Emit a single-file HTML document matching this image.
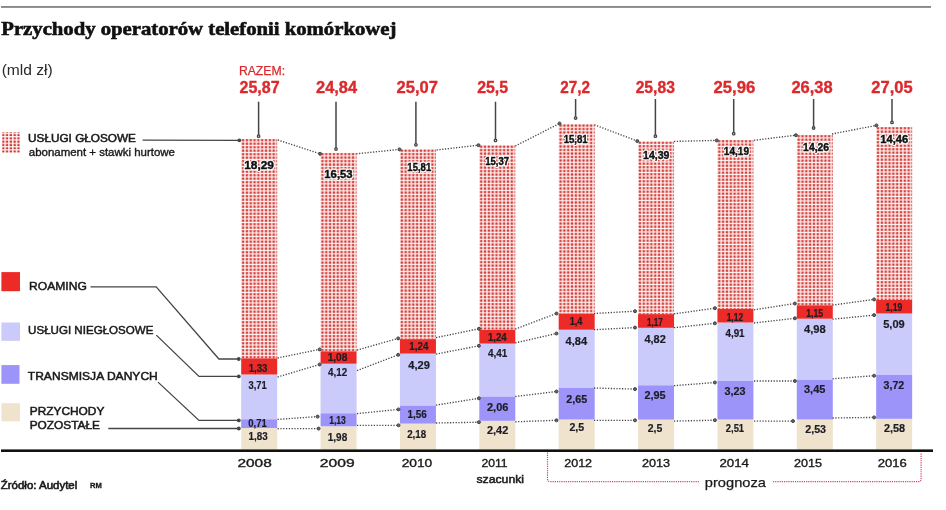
<!DOCTYPE html><html><head><meta charset="utf-8"><title>Przychody operatorów telefonii komórkowej</title>
<style>html,body{margin:0;padding:0;background:#fff;width:946px;height:510px;overflow:hidden}svg{display:block}text{font-family:"Liberation Sans",Arial,sans-serif}.sf{font-family:"Liberation Serif",serif}</style></head><body>
<svg width="946" height="510" viewBox="0 0 946 510">
<defs>
<pattern id="p0" patternUnits="userSpaceOnUse" x="241.20" y="138.90" width="3.82" height="3.5"><rect width="3.82" height="3.5" fill="#fff4f3"/><rect x="0.67" y="0.20" width="2.45" height="2.2" fill="#d03834"/></pattern>
<pattern id="p1" patternUnits="userSpaceOnUse" x="320.57" y="152.80" width="3.82" height="3.5"><rect width="3.82" height="3.5" fill="#fff4f3"/><rect x="0.67" y="0.20" width="2.45" height="2.2" fill="#d03834"/></pattern>
<pattern id="p2" patternUnits="userSpaceOnUse" x="399.94" y="149.30" width="3.82" height="3.5"><rect width="3.82" height="3.5" fill="#fff4f3"/><rect x="0.67" y="0.20" width="2.45" height="2.2" fill="#d03834"/></pattern>
<pattern id="p3" patternUnits="userSpaceOnUse" x="479.31" y="145.30" width="3.82" height="3.5"><rect width="3.82" height="3.5" fill="#fff4f3"/><rect x="0.67" y="0.20" width="2.45" height="2.2" fill="#d03834"/></pattern>
<pattern id="p4" patternUnits="userSpaceOnUse" x="558.68" y="124.20" width="3.82" height="3.5"><rect width="3.82" height="3.5" fill="#fff4f3"/><rect x="0.67" y="0.20" width="2.45" height="2.2" fill="#d03834"/></pattern>
<pattern id="p5" patternUnits="userSpaceOnUse" x="638.05" y="141.40" width="3.82" height="3.5"><rect width="3.82" height="3.5" fill="#fff4f3"/><rect x="0.67" y="0.20" width="2.45" height="2.2" fill="#d03834"/></pattern>
<pattern id="p6" patternUnits="userSpaceOnUse" x="717.42" y="139.90" width="3.82" height="3.5"><rect width="3.82" height="3.5" fill="#fff4f3"/><rect x="0.67" y="0.20" width="2.45" height="2.2" fill="#d03834"/></pattern>
<pattern id="p7" patternUnits="userSpaceOnUse" x="796.79" y="134.90" width="3.82" height="3.5"><rect width="3.82" height="3.5" fill="#fff4f3"/><rect x="0.67" y="0.20" width="2.45" height="2.2" fill="#d03834"/></pattern>
<pattern id="p8" patternUnits="userSpaceOnUse" x="876.16" y="126.90" width="3.82" height="3.5"><rect width="3.82" height="3.5" fill="#fff4f3"/><rect x="0.67" y="0.20" width="2.45" height="2.2" fill="#d03834"/></pattern>
<pattern id="pl" patternUnits="userSpaceOnUse" x="1.5" y="133.6" width="3.8" height="3.3"><rect width="3.6" height="3.4" fill="#fff4f3"/><rect x="0.6" y="0.4" width="2.3" height="2.1" fill="#d03834"/></pattern>
</defs>
<rect x="1" y="6.1" width="930" height="1.7" fill="#7a7a7a"/>
<rect x="241.20" y="428.00" width="36.0" height="21.50" fill="#f0e3ce"/>
<rect x="241.20" y="419.20" width="36.0" height="8.80" fill="#9c94f9"/>
<rect x="241.20" y="374.50" width="36.0" height="44.70" fill="#cacafb"/>
<rect x="241.20" y="358.20" width="36.0" height="16.30" fill="#ec2a28"/>
<rect x="241.20" y="138.90" width="36.0" height="219.30" fill="url(#p0)"/>
<rect x="320.57" y="426.30" width="36.0" height="23.20" fill="#f0e3ce"/>
<rect x="320.57" y="413.20" width="36.0" height="13.10" fill="#9c94f9"/>
<rect x="320.57" y="363.70" width="36.0" height="49.50" fill="#cacafb"/>
<rect x="320.57" y="351.20" width="36.0" height="12.50" fill="#ec2a28"/>
<rect x="320.57" y="152.80" width="36.0" height="198.40" fill="url(#p1)"/>
<rect x="399.94" y="423.60" width="36.0" height="25.90" fill="#f0e3ce"/>
<rect x="399.94" y="405.40" width="36.0" height="18.20" fill="#9c94f9"/>
<rect x="399.94" y="353.60" width="36.0" height="51.80" fill="#cacafb"/>
<rect x="399.94" y="339.10" width="36.0" height="14.50" fill="#ec2a28"/>
<rect x="399.94" y="149.30" width="36.0" height="189.80" fill="url(#p2)"/>
<rect x="479.31" y="420.80" width="36.0" height="28.70" fill="#f0e3ce"/>
<rect x="479.31" y="396.40" width="36.0" height="24.40" fill="#9c94f9"/>
<rect x="479.31" y="343.60" width="36.0" height="52.80" fill="#cacafb"/>
<rect x="479.31" y="329.60" width="36.0" height="14.00" fill="#ec2a28"/>
<rect x="479.31" y="145.30" width="36.0" height="184.30" fill="url(#p3)"/>
<rect x="558.68" y="419.50" width="36.0" height="30.00" fill="#f0e3ce"/>
<rect x="558.68" y="387.50" width="36.0" height="32.00" fill="#9c94f9"/>
<rect x="558.68" y="329.70" width="36.0" height="57.80" fill="#cacafb"/>
<rect x="558.68" y="313.40" width="36.0" height="16.30" fill="#ec2a28"/>
<rect x="558.68" y="124.20" width="36.0" height="189.20" fill="url(#p4)"/>
<rect x="638.05" y="419.60" width="36.0" height="29.90" fill="#f0e3ce"/>
<rect x="638.05" y="385.20" width="36.0" height="34.40" fill="#9c94f9"/>
<rect x="638.05" y="327.80" width="36.0" height="57.40" fill="#cacafb"/>
<rect x="638.05" y="314.10" width="36.0" height="13.70" fill="#ec2a28"/>
<rect x="638.05" y="141.40" width="36.0" height="172.70" fill="url(#p5)"/>
<rect x="717.42" y="419.50" width="36.0" height="30.00" fill="#f0e3ce"/>
<rect x="717.42" y="381.00" width="36.0" height="38.50" fill="#9c94f9"/>
<rect x="717.42" y="322.50" width="36.0" height="58.50" fill="#cacafb"/>
<rect x="717.42" y="309.00" width="36.0" height="13.50" fill="#ec2a28"/>
<rect x="717.42" y="139.90" width="36.0" height="169.10" fill="url(#p6)"/>
<rect x="796.79" y="419.50" width="36.0" height="30.00" fill="#f0e3ce"/>
<rect x="796.79" y="379.50" width="36.0" height="40.00" fill="#9c94f9"/>
<rect x="796.79" y="318.70" width="36.0" height="60.80" fill="#cacafb"/>
<rect x="796.79" y="305.20" width="36.0" height="13.50" fill="#ec2a28"/>
<rect x="796.79" y="134.90" width="36.0" height="170.30" fill="url(#p7)"/>
<rect x="876.16" y="418.80" width="36.0" height="30.70" fill="#f0e3ce"/>
<rect x="876.16" y="374.50" width="36.0" height="44.30" fill="#9c94f9"/>
<rect x="876.16" y="313.50" width="36.0" height="61.00" fill="#cacafb"/>
<rect x="876.16" y="300.00" width="36.0" height="13.50" fill="#ec2a28"/>
<rect x="876.16" y="126.90" width="36.0" height="173.10" fill="url(#p8)"/>
<rect x="1" y="449.4" width="932" height="2.6" fill="#111"/>
<line x1="277.8" y1="140" x2="320.1" y2="153.8" stroke="#474747" stroke-width="1.35" stroke-dasharray="1.25 1.55"/>
<circle cx="320.1" cy="153.8" r="1.5" fill="#666" stroke="#444" stroke-width="1"/>
<line x1="277.6" y1="358" x2="319.6" y2="349.4" stroke="#474747" stroke-width="1.35" stroke-dasharray="1.25 1.55"/>
<circle cx="319.6" cy="349.4" r="1.5" fill="#666" stroke="#444" stroke-width="1"/>
<line x1="277.6" y1="377" x2="319.6" y2="364.5" stroke="#474747" stroke-width="1.35" stroke-dasharray="1.25 1.55"/>
<circle cx="319.6" cy="364.5" r="1.5" fill="#666" stroke="#444" stroke-width="1"/>
<line x1="277.6" y1="419.4" x2="317.6" y2="416.6" stroke="#474747" stroke-width="1.35" stroke-dasharray="1.25 1.55"/>
<circle cx="317.6" cy="416.6" r="1.5" fill="#666" stroke="#444" stroke-width="1"/>
<line x1="277.6" y1="428.7" x2="318.6" y2="428.6" stroke="#474747" stroke-width="1.35" stroke-dasharray="1.25 1.55"/>
<circle cx="318.6" cy="428.6" r="1.5" fill="#666" stroke="#444" stroke-width="1"/>
<line x1="356.3" y1="153.8" x2="399.5" y2="149.4" stroke="#474747" stroke-width="1.35" stroke-dasharray="1.25 1.55"/>
<circle cx="399.5" cy="149.4" r="1.5" fill="#666" stroke="#444" stroke-width="1"/>
<line x1="357" y1="350.1" x2="398.2" y2="338.4" stroke="#474747" stroke-width="1.35" stroke-dasharray="1.25 1.55"/>
<circle cx="398.2" cy="338.4" r="1.5" fill="#666" stroke="#444" stroke-width="1"/>
<line x1="357" y1="370.6" x2="398.2" y2="354.8" stroke="#474747" stroke-width="1.35" stroke-dasharray="1.25 1.55"/>
<circle cx="398.2" cy="354.8" r="1.5" fill="#666" stroke="#444" stroke-width="1"/>
<line x1="357" y1="413.6" x2="398.5" y2="409.4" stroke="#474747" stroke-width="1.35" stroke-dasharray="1.25 1.55"/>
<circle cx="398.5" cy="409.4" r="1.5" fill="#666" stroke="#444" stroke-width="1"/>
<line x1="357" y1="425.4" x2="398.5" y2="425.3" stroke="#474747" stroke-width="1.35" stroke-dasharray="1.25 1.55"/>
<circle cx="398.5" cy="425.3" r="1.5" fill="#666" stroke="#444" stroke-width="1"/>
<line x1="436.6" y1="150" x2="478.5" y2="145.2" stroke="#474747" stroke-width="1.35" stroke-dasharray="1.25 1.55"/>
<circle cx="478.5" cy="145.2" r="1.5" fill="#666" stroke="#444" stroke-width="1"/>
<line x1="436" y1="337.6" x2="478.9" y2="328.8" stroke="#474747" stroke-width="1.35" stroke-dasharray="1.25 1.55"/>
<circle cx="478.9" cy="328.8" r="1.5" fill="#666" stroke="#444" stroke-width="1"/>
<line x1="436" y1="354.1" x2="478.9" y2="345.8" stroke="#474747" stroke-width="1.35" stroke-dasharray="1.25 1.55"/>
<circle cx="478.9" cy="345.8" r="1.5" fill="#666" stroke="#444" stroke-width="1"/>
<line x1="436" y1="405.1" x2="478.9" y2="398.3" stroke="#474747" stroke-width="1.35" stroke-dasharray="1.25 1.55"/>
<circle cx="478.9" cy="398.3" r="1.5" fill="#666" stroke="#444" stroke-width="1"/>
<line x1="436" y1="423" x2="478.9" y2="422.2" stroke="#474747" stroke-width="1.35" stroke-dasharray="1.25 1.55"/>
<circle cx="478.9" cy="422.2" r="1.5" fill="#666" stroke="#444" stroke-width="1"/>
<line x1="515.3" y1="146" x2="559.5" y2="123.5" stroke="#474747" stroke-width="1.35" stroke-dasharray="1.25 1.55"/>
<circle cx="559.5" cy="123.5" r="1.5" fill="#666" stroke="#444" stroke-width="1"/>
<line x1="515.3" y1="329.1" x2="556.5" y2="313.5" stroke="#474747" stroke-width="1.35" stroke-dasharray="1.25 1.55"/>
<circle cx="556.5" cy="313.5" r="1.5" fill="#666" stroke="#444" stroke-width="1"/>
<line x1="515.3" y1="342.9" x2="556.5" y2="333.5" stroke="#474747" stroke-width="1.35" stroke-dasharray="1.25 1.55"/>
<circle cx="556.5" cy="333.5" r="1.5" fill="#666" stroke="#444" stroke-width="1"/>
<line x1="515.3" y1="396.5" x2="556.5" y2="391.5" stroke="#474747" stroke-width="1.35" stroke-dasharray="1.25 1.55"/>
<circle cx="556.5" cy="391.5" r="1.5" fill="#666" stroke="#444" stroke-width="1"/>
<line x1="515.3" y1="421.8" x2="556.5" y2="420.3" stroke="#474747" stroke-width="1.35" stroke-dasharray="1.25 1.55"/>
<circle cx="556.5" cy="420.3" r="1.5" fill="#666" stroke="#444" stroke-width="1"/>
<line x1="594.4" y1="124.8" x2="637.3" y2="141.1" stroke="#474747" stroke-width="1.35" stroke-dasharray="1.25 1.55"/>
<circle cx="637.3" cy="141.1" r="1.5" fill="#666" stroke="#444" stroke-width="1"/>
<line x1="594" y1="313.5" x2="635" y2="311.2" stroke="#474747" stroke-width="1.35" stroke-dasharray="1.25 1.55"/>
<circle cx="635" cy="311.2" r="1.5" fill="#666" stroke="#444" stroke-width="1"/>
<line x1="594" y1="329.7" x2="635" y2="327.6" stroke="#474747" stroke-width="1.35" stroke-dasharray="1.25 1.55"/>
<circle cx="635" cy="327.6" r="1.5" fill="#666" stroke="#444" stroke-width="1"/>
<line x1="594" y1="388" x2="635" y2="389.1" stroke="#474747" stroke-width="1.35" stroke-dasharray="1.25 1.55"/>
<circle cx="635" cy="389.1" r="1.5" fill="#666" stroke="#444" stroke-width="1"/>
<line x1="594" y1="420.3" x2="635" y2="420.3" stroke="#474747" stroke-width="1.35" stroke-dasharray="1.25 1.55"/>
<circle cx="635" cy="420.3" r="1.5" fill="#666" stroke="#444" stroke-width="1"/>
<line x1="674" y1="141.4" x2="716.8" y2="140.4" stroke="#474747" stroke-width="1.35" stroke-dasharray="1.25 1.55"/>
<circle cx="716.8" cy="140.4" r="1.5" fill="#666" stroke="#444" stroke-width="1"/>
<line x1="674" y1="313.9" x2="714.9" y2="308.2" stroke="#474747" stroke-width="1.35" stroke-dasharray="1.25 1.55"/>
<circle cx="714.9" cy="308.2" r="1.5" fill="#666" stroke="#444" stroke-width="1"/>
<line x1="674" y1="327.7" x2="714.9" y2="323.3" stroke="#474747" stroke-width="1.35" stroke-dasharray="1.25 1.55"/>
<circle cx="714.9" cy="323.3" r="1.5" fill="#666" stroke="#444" stroke-width="1"/>
<line x1="674" y1="385.7" x2="714.9" y2="382.5" stroke="#474747" stroke-width="1.35" stroke-dasharray="1.25 1.55"/>
<circle cx="714.9" cy="382.5" r="1.5" fill="#666" stroke="#444" stroke-width="1"/>
<line x1="674" y1="421.1" x2="714.9" y2="420.2" stroke="#474747" stroke-width="1.35" stroke-dasharray="1.25 1.55"/>
<circle cx="714.9" cy="420.2" r="1.5" fill="#666" stroke="#444" stroke-width="1"/>
<line x1="754" y1="140.3" x2="795.9" y2="135.2" stroke="#474747" stroke-width="1.35" stroke-dasharray="1.25 1.55"/>
<circle cx="795.9" cy="135.2" r="1.5" fill="#666" stroke="#444" stroke-width="1"/>
<line x1="754" y1="309.8" x2="794.9" y2="303.5" stroke="#474747" stroke-width="1.35" stroke-dasharray="1.25 1.55"/>
<circle cx="794.9" cy="303.5" r="1.5" fill="#666" stroke="#444" stroke-width="1"/>
<line x1="754" y1="323" x2="794.9" y2="318.3" stroke="#474747" stroke-width="1.35" stroke-dasharray="1.25 1.55"/>
<circle cx="794.9" cy="318.3" r="1.5" fill="#666" stroke="#444" stroke-width="1"/>
<line x1="754" y1="381" x2="794.9" y2="381" stroke="#474747" stroke-width="1.35" stroke-dasharray="1.25 1.55"/>
<circle cx="794.9" cy="381" r="1.5" fill="#666" stroke="#444" stroke-width="1"/>
<line x1="754" y1="421.1" x2="793" y2="421.1" stroke="#474747" stroke-width="1.35" stroke-dasharray="1.25 1.55"/>
<circle cx="793" cy="421.1" r="1.5" fill="#666" stroke="#444" stroke-width="1"/>
<line x1="832" y1="134" x2="876.4" y2="125.4" stroke="#474747" stroke-width="1.35" stroke-dasharray="1.25 1.55"/>
<circle cx="876.4" cy="125.4" r="1.5" fill="#666" stroke="#444" stroke-width="1"/>
<line x1="832.5" y1="305.1" x2="874.1" y2="299.4" stroke="#474747" stroke-width="1.35" stroke-dasharray="1.25 1.55"/>
<circle cx="874.1" cy="299.4" r="1.5" fill="#666" stroke="#444" stroke-width="1"/>
<line x1="832.5" y1="319.2" x2="874.1" y2="315.1" stroke="#474747" stroke-width="1.35" stroke-dasharray="1.25 1.55"/>
<circle cx="874.1" cy="315.1" r="1.5" fill="#666" stroke="#444" stroke-width="1"/>
<line x1="832.5" y1="378.8" x2="874.1" y2="375.7" stroke="#474747" stroke-width="1.35" stroke-dasharray="1.25 1.55"/>
<circle cx="874.1" cy="375.7" r="1.5" fill="#666" stroke="#444" stroke-width="1"/>
<line x1="832.5" y1="418" x2="874.1" y2="417.4" stroke="#474747" stroke-width="1.35" stroke-dasharray="1.25 1.55"/>
<circle cx="874.1" cy="417.4" r="1.5" fill="#666" stroke="#444" stroke-width="1"/>
<line x1="258.6" y1="101.7" x2="258.6" y2="136.2" stroke="#454545" stroke-width="1.5"/>
<circle cx="258.6" cy="136.2" r="1.25" fill="#ddd" stroke="#454545" stroke-width="1.3"/>
<line x1="336" y1="101.7" x2="336" y2="149.1" stroke="#454545" stroke-width="1.5"/>
<circle cx="336" cy="149.1" r="1.25" fill="#ddd" stroke="#454545" stroke-width="1.3"/>
<line x1="415.9" y1="101.7" x2="415.9" y2="144.8" stroke="#454545" stroke-width="1.5"/>
<circle cx="415.9" cy="144.8" r="1.25" fill="#ddd" stroke="#454545" stroke-width="1.3"/>
<line x1="495.5" y1="101.7" x2="495.5" y2="140.4" stroke="#454545" stroke-width="1.5"/>
<circle cx="495.5" cy="140.4" r="1.25" fill="#ddd" stroke="#454545" stroke-width="1.3"/>
<line x1="575.6" y1="99" x2="575.6" y2="118.1" stroke="#454545" stroke-width="1.5"/>
<circle cx="575.6" cy="118.1" r="1.25" fill="#ddd" stroke="#454545" stroke-width="1.3"/>
<line x1="655.4" y1="99" x2="655.4" y2="136.2" stroke="#454545" stroke-width="1.5"/>
<circle cx="655.4" cy="136.2" r="1.25" fill="#ddd" stroke="#454545" stroke-width="1.3"/>
<line x1="733.7" y1="99" x2="733.7" y2="133.7" stroke="#454545" stroke-width="1.5"/>
<circle cx="733.7" cy="133.7" r="1.25" fill="#ddd" stroke="#454545" stroke-width="1.3"/>
<line x1="813.6" y1="99" x2="813.6" y2="128" stroke="#454545" stroke-width="1.5"/>
<circle cx="813.6" cy="128" r="1.25" fill="#ddd" stroke="#454545" stroke-width="1.3"/>
<line x1="892" y1="99" x2="892" y2="122.4" stroke="#454545" stroke-width="1.5"/>
<circle cx="892" cy="122.4" r="1.25" fill="#ddd" stroke="#454545" stroke-width="1.3"/>
<rect x="2" y="132.3" width="18" height="20.4" fill="url(#pl)"/>
<rect x="1.4" y="272.1" width="18.6" height="19.1" fill="#ec2a28"/>
<rect x="1.4" y="322.5" width="18.6" height="18.3" fill="#cacafb"/>
<rect x="1.4" y="365.1" width="18.1" height="18.7" fill="#9c94f9"/>
<rect x="1.4" y="403.2" width="18.6" height="18.1" fill="#f0e3ce"/>
<polyline points="142.6,140.2 239.3,140.3" fill="none" stroke="#454545" stroke-width="1.3"/>
<circle cx="239.3" cy="140.3" r="1.9" fill="#454545"/>
<polyline points="90.5,286.9 156.2,286.9 218.9,359 238.8,359" fill="none" stroke="#454545" stroke-width="1.3"/>
<circle cx="238.8" cy="359" r="1.9" fill="#454545"/>
<polyline points="156.3,335.1 199,376.4 238.8,376.4" fill="none" stroke="#454545" stroke-width="1.3"/>
<circle cx="238.8" cy="376.4" r="1.9" fill="#454545"/>
<polyline points="158,382.1 199,420.4 238.8,420.4" fill="none" stroke="#454545" stroke-width="1.3"/>
<circle cx="238.8" cy="420.4" r="1.9" fill="#454545"/>
<polyline points="108.3,428.5 238.8,428.5" fill="none" stroke="#454545" stroke-width="1.3"/>
<circle cx="238.8" cy="428.5" r="1.9" fill="#454545"/>
<path d="M547.5,452.5 V478.7 Q547.5,481.7 550.5,481.7 H699 M773,481.7 H918.1 Q921.1,481.7 921.1,478.7 V452.5" fill="none" stroke="#e2405e" stroke-width="1.2" stroke-dasharray="1.2 1.0"/>
<text id="title" x="1.26" y="34.90" font-size="18" fill="#111" font-weight="bold" class="sf" textLength="395.06" lengthAdjust="spacingAndGlyphs" stroke="#111" stroke-width="0.6">Przychody operatorów telefonii komórkowej</text>
<text id="mld" x="1.66" y="74.80" font-size="14.2" fill="#2a2a2a" textLength="51.12" lengthAdjust="spacingAndGlyphs">(mld zł)</text>
<text id="razem" x="238.88" y="74.50" font-size="12.6" fill="#dc292c" textLength="46.19" lengthAdjust="spacingAndGlyphs" stroke="#dc292c" stroke-width="0.25">RAZEM:</text>
<text id="tot0" x="259.56" y="93.10" font-size="16" fill="#dc292c" font-weight="bold" text-anchor="middle" textLength="40.03" lengthAdjust="spacingAndGlyphs" stroke="#dc292c" stroke-width="0.35">25,87</text>
<text id="tot1" x="336.60" y="93.10" font-size="16" fill="#dc292c" font-weight="bold" text-anchor="middle" textLength="41.07" lengthAdjust="spacingAndGlyphs" stroke="#dc292c" stroke-width="0.35">24,84</text>
<text id="tot2" x="417.22" y="93.10" font-size="16" fill="#dc292c" font-weight="bold" text-anchor="middle" textLength="41.39" lengthAdjust="spacingAndGlyphs" stroke="#dc292c" stroke-width="0.35">25,07</text>
<text id="tot3" x="492.65" y="93.10" font-size="16" fill="#dc292c" font-weight="bold" text-anchor="middle" textLength="30.89" lengthAdjust="spacingAndGlyphs" stroke="#dc292c" stroke-width="0.35">25,5</text>
<text id="tot4" x="575.22" y="93.10" font-size="16" fill="#dc292c" font-weight="bold" text-anchor="middle" textLength="29.75" lengthAdjust="spacingAndGlyphs" stroke="#dc292c" stroke-width="0.35">27,2</text>
<text id="tot5" x="655.26" y="93.10" font-size="16" fill="#dc292c" font-weight="bold" text-anchor="middle" textLength="39.19" lengthAdjust="spacingAndGlyphs" stroke="#dc292c" stroke-width="0.35">25,83</text>
<text id="tot6" x="734.35" y="93.10" font-size="16" fill="#dc292c" font-weight="bold" text-anchor="middle" textLength="41.82" lengthAdjust="spacingAndGlyphs" stroke="#dc292c" stroke-width="0.35">25,96</text>
<text id="tot7" x="812.05" y="93.10" font-size="16" fill="#dc292c" font-weight="bold" text-anchor="middle" textLength="41.19" lengthAdjust="spacingAndGlyphs" stroke="#dc292c" stroke-width="0.35">26,38</text>
<text id="tot8" x="891.98" y="93.10" font-size="16" fill="#dc292c" font-weight="bold" text-anchor="middle" textLength="41.20" lengthAdjust="spacingAndGlyphs" stroke="#dc292c" stroke-width="0.35">27,05</text>
<text x="259.06" y="168.75" font-size="11.6" fill="#111" font-weight="bold" text-anchor="middle" textLength="29.66" lengthAdjust="spacingAndGlyphs" stroke="#fff" stroke-width="2.8" stroke-linejoin="round">18,29</text>
<text id="v0" x="259.06" y="168.75" font-size="11.6" fill="#111" font-weight="bold" text-anchor="middle" textLength="29.66" lengthAdjust="spacingAndGlyphs" stroke="#111" stroke-width="0.45">18,29</text>
<text x="338.48" y="177.80" font-size="11.6" fill="#111" font-weight="bold" text-anchor="middle" textLength="28.28" lengthAdjust="spacingAndGlyphs" stroke="#fff" stroke-width="2.8" stroke-linejoin="round">16,53</text>
<text id="v1" x="338.48" y="177.80" font-size="11.6" fill="#111" font-weight="bold" text-anchor="middle" textLength="28.28" lengthAdjust="spacingAndGlyphs" stroke="#111" stroke-width="0.45">16,53</text>
<text x="419.30" y="171.35" font-size="11.6" fill="#111" font-weight="bold" text-anchor="middle" textLength="23.89" lengthAdjust="spacingAndGlyphs" stroke="#fff" stroke-width="2.8" stroke-linejoin="round">15,81</text>
<text id="v2" x="419.30" y="171.35" font-size="11.6" fill="#111" font-weight="bold" text-anchor="middle" textLength="23.89" lengthAdjust="spacingAndGlyphs" stroke="#111" stroke-width="0.45">15,81</text>
<text x="497.19" y="165.05" font-size="11.6" fill="#111" font-weight="bold" text-anchor="middle" textLength="23.94" lengthAdjust="spacingAndGlyphs" stroke="#fff" stroke-width="2.8" stroke-linejoin="round">15,37</text>
<text id="v3" x="497.19" y="165.05" font-size="11.6" fill="#111" font-weight="bold" text-anchor="middle" textLength="23.94" lengthAdjust="spacingAndGlyphs" stroke="#111" stroke-width="0.45">15,37</text>
<text x="575.66" y="142.85" font-size="11.6" fill="#111" font-weight="bold" text-anchor="middle" textLength="24.02" lengthAdjust="spacingAndGlyphs" stroke="#fff" stroke-width="2.8" stroke-linejoin="round">15,81</text>
<text id="v4" x="575.66" y="142.85" font-size="11.6" fill="#111" font-weight="bold" text-anchor="middle" textLength="24.02" lengthAdjust="spacingAndGlyphs" stroke="#111" stroke-width="0.45">15,81</text>
<text x="656.23" y="159.10" font-size="11.6" fill="#111" font-weight="bold" text-anchor="middle" textLength="26.34" lengthAdjust="spacingAndGlyphs" stroke="#fff" stroke-width="2.8" stroke-linejoin="round">14,39</text>
<text id="v5" x="656.23" y="159.10" font-size="11.6" fill="#111" font-weight="bold" text-anchor="middle" textLength="26.34" lengthAdjust="spacingAndGlyphs" stroke="#111" stroke-width="0.45">14,39</text>
<text x="736.45" y="155.00" font-size="11.6" fill="#111" font-weight="bold" text-anchor="middle" textLength="25.26" lengthAdjust="spacingAndGlyphs" stroke="#fff" stroke-width="2.8" stroke-linejoin="round">14,19</text>
<text id="v6" x="736.45" y="155.00" font-size="11.6" fill="#111" font-weight="bold" text-anchor="middle" textLength="25.26" lengthAdjust="spacingAndGlyphs" stroke="#111" stroke-width="0.45">14,19</text>
<text x="816.13" y="150.80" font-size="11.6" fill="#111" font-weight="bold" text-anchor="middle" textLength="26.02" lengthAdjust="spacingAndGlyphs" stroke="#fff" stroke-width="2.8" stroke-linejoin="round">14,26</text>
<text id="v7" x="816.13" y="150.80" font-size="11.6" fill="#111" font-weight="bold" text-anchor="middle" textLength="26.02" lengthAdjust="spacingAndGlyphs" stroke="#111" stroke-width="0.45">14,26</text>
<text x="894.22" y="142.85" font-size="11.6" fill="#111" font-weight="bold" text-anchor="middle" textLength="27.94" lengthAdjust="spacingAndGlyphs" stroke="#fff" stroke-width="2.8" stroke-linejoin="round">14,46</text>
<text id="v8" x="894.22" y="142.85" font-size="11.6" fill="#111" font-weight="bold" text-anchor="middle" textLength="27.94" lengthAdjust="spacingAndGlyphs" stroke="#111" stroke-width="0.45">14,46</text>
<text id="r0" x="258.08" y="372.10" font-size="11" fill="#1c1c24" font-weight="bold" text-anchor="middle" textLength="18.84" lengthAdjust="spacingAndGlyphs" stroke="#1c1c24" stroke-width="0.2">1,33</text>
<text id="r1" x="337.49" y="361.30" font-size="11" fill="#1c1c24" font-weight="bold" text-anchor="middle" textLength="19.69" lengthAdjust="spacingAndGlyphs" stroke="#1c1c24" stroke-width="0.2">1,08</text>
<text id="r2" x="418.85" y="350.30" font-size="11" fill="#1c1c24" font-weight="bold" text-anchor="middle" textLength="19.09" lengthAdjust="spacingAndGlyphs" stroke="#1c1c24" stroke-width="0.2">1,24</text>
<text id="r3" x="497.34" y="340.90" font-size="11" fill="#1c1c24" font-weight="bold" text-anchor="middle" textLength="18.83" lengthAdjust="spacingAndGlyphs" stroke="#1c1c24" stroke-width="0.2">1,24</text>
<text id="r4" x="576.07" y="325.10" font-size="11" fill="#1c1c24" font-weight="bold" text-anchor="middle" textLength="12.83" lengthAdjust="spacingAndGlyphs" stroke="#1c1c24" stroke-width="0.2">1,4</text>
<text id="r5" x="654.91" y="326.20" font-size="11" fill="#1c1c24" font-weight="bold" text-anchor="middle" textLength="15.89" lengthAdjust="spacingAndGlyphs" stroke="#1c1c24" stroke-width="0.2">1,17</text>
<text id="r6" x="734.88" y="320.60" font-size="11" fill="#1c1c24" font-weight="bold" text-anchor="middle" textLength="16.49" lengthAdjust="spacingAndGlyphs" stroke="#1c1c24" stroke-width="0.2">1,12</text>
<text id="r7" x="814.59" y="316.70" font-size="11" fill="#1c1c24" font-weight="bold" text-anchor="middle" textLength="16.73" lengthAdjust="spacingAndGlyphs" stroke="#1c1c24" stroke-width="0.2">1,15</text>
<text id="r8" x="893.93" y="311.10" font-size="11" fill="#1c1c24" font-weight="bold" text-anchor="middle" textLength="16.85" lengthAdjust="spacingAndGlyphs" stroke="#1c1c24" stroke-width="0.2">1,19</text>
<text id="n0" x="257.55" y="388.90" font-size="11" fill="#1c1c24" font-weight="bold" text-anchor="middle" textLength="18.19" lengthAdjust="spacingAndGlyphs" stroke="#1c1c24" stroke-width="0.2">3,71</text>
<text id="n1" x="337.66" y="376.10" font-size="11" fill="#1c1c24" font-weight="bold" text-anchor="middle" textLength="19.12" lengthAdjust="spacingAndGlyphs" stroke="#1c1c24" stroke-width="0.2">4,12</text>
<text id="n2" x="419.17" y="368.90" font-size="11" fill="#1c1c24" font-weight="bold" text-anchor="middle" textLength="21.63" lengthAdjust="spacingAndGlyphs" stroke="#1c1c24" stroke-width="0.2">4,29</text>
<text id="n3" x="497.65" y="357.20" font-size="11" fill="#1c1c24" font-weight="bold" text-anchor="middle" textLength="19.38" lengthAdjust="spacingAndGlyphs" stroke="#1c1c24" stroke-width="0.2">4,41</text>
<text id="n4" x="576.43" y="344.90" font-size="11" fill="#1c1c24" font-weight="bold" text-anchor="middle" textLength="21.62" lengthAdjust="spacingAndGlyphs" stroke="#1c1c24" stroke-width="0.2">4,84</text>
<text id="n5" x="655.09" y="343.20" font-size="11" fill="#1c1c24" font-weight="bold" text-anchor="middle" textLength="21.41" lengthAdjust="spacingAndGlyphs" stroke="#1c1c24" stroke-width="0.2">4,82</text>
<text id="n6" x="735.01" y="337.20" font-size="11" fill="#1c1c24" font-weight="bold" text-anchor="middle" textLength="19.16" lengthAdjust="spacingAndGlyphs" stroke="#1c1c24" stroke-width="0.2">4,91</text>
<text id="n7" x="814.84" y="333.30" font-size="11" fill="#1c1c24" font-weight="bold" text-anchor="middle" textLength="21.77" lengthAdjust="spacingAndGlyphs" stroke="#1c1c24" stroke-width="0.2">4,98</text>
<text id="n8" x="893.94" y="328.00" font-size="11" fill="#1c1c24" font-weight="bold" text-anchor="middle" textLength="21.50" lengthAdjust="spacingAndGlyphs" stroke="#1c1c24" stroke-width="0.2">5,09</text>
<text id="d0" x="257.48" y="426.90" font-size="11" fill="#1c1c24" font-weight="bold" text-anchor="middle" textLength="18.46" lengthAdjust="spacingAndGlyphs" stroke="#1c1c24" stroke-width="0.2">0,71</text>
<text id="d1" x="337.53" y="424.10" font-size="11" fill="#1c1c24" font-weight="bold" text-anchor="middle" textLength="16.76" lengthAdjust="spacingAndGlyphs" stroke="#1c1c24" stroke-width="0.2">1,13</text>
<text id="d2" x="417.23" y="418.40" font-size="11" fill="#1c1c24" font-weight="bold" text-anchor="middle" textLength="19.27" lengthAdjust="spacingAndGlyphs" stroke="#1c1c24" stroke-width="0.2">1,56</text>
<text id="d3" x="497.69" y="410.60" font-size="11" fill="#1c1c24" font-weight="bold" text-anchor="middle" textLength="21.42" lengthAdjust="spacingAndGlyphs" stroke="#1c1c24" stroke-width="0.2">2,06</text>
<text id="d4" x="576.70" y="402.90" font-size="11" fill="#1c1c24" font-weight="bold" text-anchor="middle" textLength="20.93" lengthAdjust="spacingAndGlyphs" stroke="#1c1c24" stroke-width="0.2">2,65</text>
<text id="d5" x="655.01" y="398.90" font-size="11" fill="#1c1c24" font-weight="bold" text-anchor="middle" textLength="21.09" lengthAdjust="spacingAndGlyphs" stroke="#1c1c24" stroke-width="0.2">2,95</text>
<text id="d6" x="734.99" y="394.90" font-size="11" fill="#1c1c24" font-weight="bold" text-anchor="middle" textLength="20.94" lengthAdjust="spacingAndGlyphs" stroke="#1c1c24" stroke-width="0.2">3,23</text>
<text id="d7" x="814.69" y="393.30" font-size="11" fill="#1c1c24" font-weight="bold" text-anchor="middle" textLength="21.35" lengthAdjust="spacingAndGlyphs" stroke="#1c1c24" stroke-width="0.2">3,45</text>
<text id="d8" x="893.92" y="388.70" font-size="11" fill="#1c1c24" font-weight="bold" text-anchor="middle" textLength="20.60" lengthAdjust="spacingAndGlyphs" stroke="#1c1c24" stroke-width="0.2">3,72</text>
<text id="o0" x="258.06" y="440.30" font-size="11" fill="#1c1c24" font-weight="bold" text-anchor="middle" textLength="19.19" lengthAdjust="spacingAndGlyphs" stroke="#1c1c24" stroke-width="0.2">1,83</text>
<text id="o1" x="337.53" y="441.00" font-size="11" fill="#1c1c24" font-weight="bold" text-anchor="middle" textLength="19.44" lengthAdjust="spacingAndGlyphs" stroke="#1c1c24" stroke-width="0.2">1,98</text>
<text id="o2" x="416.69" y="437.60" font-size="11" fill="#1c1c24" font-weight="bold" text-anchor="middle" textLength="19.00" lengthAdjust="spacingAndGlyphs" stroke="#1c1c24" stroke-width="0.2">2,18</text>
<text id="o3" x="497.64" y="434.10" font-size="11" fill="#1c1c24" font-weight="bold" text-anchor="middle" textLength="21.34" lengthAdjust="spacingAndGlyphs" stroke="#1c1c24" stroke-width="0.2">2,42</text>
<text id="o4" x="576.76" y="430.60" font-size="11" fill="#1c1c24" font-weight="bold" text-anchor="middle" textLength="14.71" lengthAdjust="spacingAndGlyphs" stroke="#1c1c24" stroke-width="0.2">2,5</text>
<text id="o5" x="654.98" y="431.60" font-size="11" fill="#1c1c24" font-weight="bold" text-anchor="middle" textLength="14.53" lengthAdjust="spacingAndGlyphs" stroke="#1c1c24" stroke-width="0.2">2,5</text>
<text id="o6" x="734.96" y="431.60" font-size="11" fill="#1c1c24" font-weight="bold" text-anchor="middle" textLength="18.26" lengthAdjust="spacingAndGlyphs" stroke="#1c1c24" stroke-width="0.2">2,51</text>
<text id="o7" x="815.66" y="433.40" font-size="11" fill="#1c1c24" font-weight="bold" text-anchor="middle" textLength="20.77" lengthAdjust="spacingAndGlyphs" stroke="#1c1c24" stroke-width="0.2">2,53</text>
<text id="o8" x="894.56" y="431.90" font-size="11" fill="#1c1c24" font-weight="bold" text-anchor="middle" textLength="21.21" lengthAdjust="spacingAndGlyphs" stroke="#1c1c24" stroke-width="0.2">2,58</text>
<text id="lg1" x="28.05" y="141.90" font-size="10.6" fill="#1a1a1a" textLength="107.94" lengthAdjust="spacingAndGlyphs" stroke="#1a1a1a" stroke-width="0.5">USŁUGI GŁOSOWE</text>
<text id="lg1b" x="28.79" y="155.90" font-size="10.3" fill="#1a1a1a" textLength="146.20" lengthAdjust="spacingAndGlyphs" stroke="#1a1a1a" stroke-width="0.35">abonament + stawki hurtowe</text>
<text id="lg2" x="29.08" y="290.40" font-size="11.6" fill="#1a1a1a" textLength="57.74" lengthAdjust="spacingAndGlyphs" stroke="#1a1a1a" stroke-width="0.5">ROAMING</text>
<text id="lg3" x="28.12" y="334.40" font-size="11.4" fill="#1a1a1a" textLength="125.28" lengthAdjust="spacingAndGlyphs" stroke="#1a1a1a" stroke-width="0.5">USŁUGI NIEGŁOSOWE</text>
<text id="lg4" x="27.81" y="379.50" font-size="11.3" fill="#1a1a1a" textLength="130.02" lengthAdjust="spacingAndGlyphs" stroke="#1a1a1a" stroke-width="0.5">TRANSMISJA DANYCH</text>
<text id="lg5" x="29.72" y="415.00" font-size="11.2" fill="#1a1a1a" textLength="74.69" lengthAdjust="spacingAndGlyphs" stroke="#1a1a1a" stroke-width="0.5">PRZYCHODY</text>
<text id="lg6" x="29.70" y="429.10" font-size="11.2" fill="#1a1a1a" textLength="70.31" lengthAdjust="spacingAndGlyphs" stroke="#1a1a1a" stroke-width="0.5">POZOSTAŁE</text>
<text id="y0" x="254.61" y="466.60" font-size="11.2" fill="#1a1a1a" text-anchor="middle" textLength="34.34" lengthAdjust="spacingAndGlyphs" stroke="#1a1a1a" stroke-width="0.35">2008</text>
<text id="y1" x="337.20" y="466.60" font-size="11.2" fill="#1a1a1a" text-anchor="middle" textLength="34.77" lengthAdjust="spacingAndGlyphs" stroke="#1a1a1a" stroke-width="0.35">2009</text>
<text id="y2" x="416.98" y="466.60" font-size="11.2" fill="#1a1a1a" text-anchor="middle" textLength="30.63" lengthAdjust="spacingAndGlyphs" stroke="#1a1a1a" stroke-width="0.35">2010</text>
<text id="y3" x="494.50" y="466.60" font-size="11.2" fill="#1a1a1a" text-anchor="middle" textLength="26.17" lengthAdjust="spacingAndGlyphs" stroke="#1a1a1a" stroke-width="0.35">2011</text>
<text id="y4" x="578.14" y="466.60" font-size="11.2" fill="#1a1a1a" text-anchor="middle" textLength="27.89" lengthAdjust="spacingAndGlyphs" stroke="#1a1a1a" stroke-width="0.35">2012</text>
<text id="y5" x="656.04" y="466.60" font-size="11.2" fill="#1a1a1a" text-anchor="middle" textLength="28.11" lengthAdjust="spacingAndGlyphs" stroke="#1a1a1a" stroke-width="0.35">2013</text>
<text id="y6" x="734.23" y="466.60" font-size="11.2" fill="#1a1a1a" text-anchor="middle" textLength="29.56" lengthAdjust="spacingAndGlyphs" stroke="#1a1a1a" stroke-width="0.35">2014</text>
<text id="y7" x="808.05" y="466.60" font-size="11.2" fill="#1a1a1a" text-anchor="middle" textLength="28.06" lengthAdjust="spacingAndGlyphs" stroke="#1a1a1a" stroke-width="0.35">2015</text>
<text id="y8" x="892.20" y="466.60" font-size="11.2" fill="#1a1a1a" text-anchor="middle" textLength="29.10" lengthAdjust="spacingAndGlyphs" stroke="#1a1a1a" stroke-width="0.35">2016</text>
<text id="szac" x="500.25" y="483.00" font-size="11" fill="#1a1a1a" text-anchor="middle" textLength="47.64" lengthAdjust="spacingAndGlyphs" stroke="#1a1a1a" stroke-width="0.5">szacunki</text>
<text id="prog" x="735.37" y="486.80" font-size="13.2" fill="#1a1a1a" text-anchor="middle" textLength="61.09" lengthAdjust="spacingAndGlyphs" stroke="#1a1a1a" stroke-width="0.25">prognoza</text>
<text id="src" x="0.79" y="488.90" font-size="10" fill="#1a1a1a" textLength="76.50" lengthAdjust="spacingAndGlyphs" stroke="#1a1a1a" stroke-width="0.55">Źródło: Audytel</text>
<text id="rm" x="90.05" y="488.20" font-size="7" fill="#1a1a1a" font-weight="bold" textLength="11.78" lengthAdjust="spacingAndGlyphs" stroke="#1a1a1a" stroke-width="0.3">RM</text>
</svg></body></html>
